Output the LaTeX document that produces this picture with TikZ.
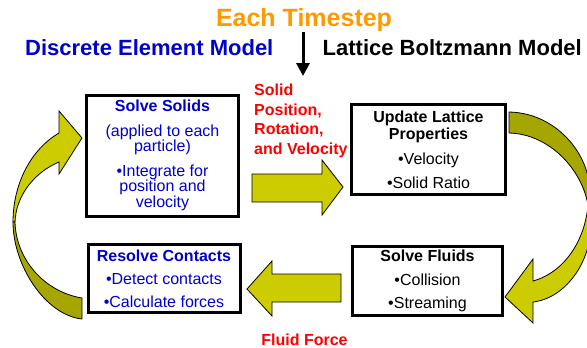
\documentclass[tikz,border=0pt]{standalone}
\usepackage{fontspec}
\setmainfont{Liberation Sans}
\usetikzlibrary{arrows.meta}
\definecolor{olivelight}{HTML}{CCCC00}
\definecolor{olivedark}{HTML}{A6A600}
\definecolor{demblue}{HTML}{0000CC}
\definecolor{steporange}{HTML}{FF9900}
\definecolor{labelred}{HTML}{FF0000}
\begin{document}
\begin{tikzpicture}[x=1pt,y=-1pt,
  stepbox/.style={draw=black, line width=3pt, fill=white, align=center, inner sep=0pt,
    font=\fontsize{16}{17}\selectfont},
  flowarrow/.style={draw=black, line width=0.8pt, line join=miter},
  headline/.style={inner sep=0pt, font=\fontsize{22}{26}\selectfont\bfseries},
  redlabel/.style={inner sep=0pt, text=labelred, font=\fontsize{16}{19}\selectfont\bfseries},
]
\useasboundingbox (0,0) rectangle (587,348);

% headings
\node[inner sep=0pt, anchor=base, text=steporange,
      font=\fontsize{25}{30}\selectfont\bfseries] (title) at (304,26) {Each Timestep};
\node[headline, anchor=base west, text=demblue] (dem) at (25,55.5) {Discrete Element Model};
\node[headline, anchor=base east, text=black] (lbm) at (582,55.5) {Lattice Boltzmann Model};
\coordinate (ts1) at (303,32);
\coordinate (ts2) at (303,76);
\draw[line width=3pt, -{Triangle[width=13pt,length=13pt]}] (ts1) -- (ts2);

% process boxes
\node[stepbox, minimum width=152pt, minimum height=121pt, text=demblue,
      font=\fontsize{16}{15.5}\selectfont] (solids) at (162.5,155.5)
  {\bfseries Solve Solids\\[9pt](applied to each\\particle)\\[9pt]•Integrate for\\position and\\velocity};
\node[stepbox, minimum width=154pt, minimum height=90pt, text=black] (lattice) at (428.5,149.5)
  {\bfseries Update Lattice\\\bfseries Properties\\[8pt]•Velocity\\[7pt]•Solid Ratio};
\node[stepbox, minimum width=152pt, minimum height=68pt, text=demblue] (contacts) at (164,278.5)
  {\bfseries Resolve Contacts\\[6pt]•Detect contacts\\[6pt]•Calculate forces};
\node[stepbox, minimum width=150pt, minimum height=69pt, text=black] (fluids) at (427.5,281)
  {\bfseries Solve Fluids\\[6.5pt]•Collision\\[6.5pt]•Streaming};

% data passed between the two models
\node[redlabel, anchor=base west] (lab1) at (254,95.5) {Solid};
\node[redlabel, anchor=base west] (lab2) at (254,115) {Position,};
\node[redlabel, anchor=base west] (lab3) at (254,134.5) {Rotation,};
\node[redlabel, anchor=base west] (lab4) at (254,154) {and Velocity};
\node[redlabel, anchor=base] (lab5) at (304.5,345) {Fluid Force};

% straight block arrows
\filldraw[flowarrow, fill=olivelight]
  (252,174) -- (322,174) -- (322,160) -- (343,187) -- (322,215) -- (322,202) -- (252,202) -- cycle;
\filldraw[flowarrow, fill=olivelight]
  (341,274) -- (272,274) -- (272,261) -- (247,289) -- (272,316) -- (272,302) -- (341,302) -- cycle;

% curved arrow: contacts back to solids
\filldraw[flowarrow, fill=olivelight]
  (15,222) .. controls (16,195) and (35,172) .. (59,162) -- (59,174) -- (82,138) -- (59,111)
  -- (59,133) .. controls (30,150) and (13,185) .. (13,222) -- cycle;
\filldraw[flowarrow, fill=olivedark]
  (82,298) .. controls (45,292) and (16,260) .. (15,222) -- (13,222)
  .. controls (13,265) and (45,315) .. (82,319) -- cycle;

% curved arrow: lattice down to fluids
\filldraw[flowarrow, fill=olivedark]
  (509,112) .. controls (562,113) and (598,165) .. (588,205)
  .. controls (582,170) and (550,134) .. (509,133) -- cycle;
\filldraw[flowarrow, fill=olivelight]
  (588,205) .. controls (600,250) and (570,298) .. (533,302) -- (533,323) -- (505,297)
  -- (533,259) -- (533,281) .. controls (565,272) and (585,240) .. (588,205) -- cycle;
\end{tikzpicture}
\end{document}
